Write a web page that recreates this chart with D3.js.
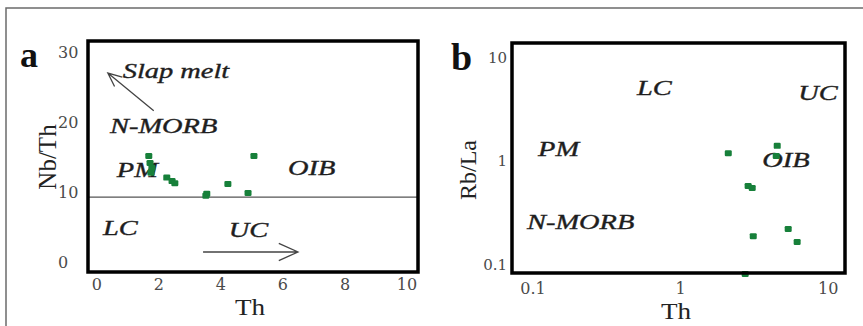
<!DOCTYPE html>
<html>
<head>
<meta charset="utf-8">
<script src="https://cdn.jsdelivr.net/npm/d3@7/dist/d3.min.js"></script>
<style>
  html, body { margin: 0; padding: 0; background: #fff; }
  svg { display: block; }
</style>
</head>
<body>
<svg id="chart" width="863" height="326"></svg>
<script>
// ---- Panel a: Nb/Th vs Th ----
const thA   = [1.69, 1.73, 1.79, 1.76, 2.27, 2.44, 2.53, 3.56, 3.53, 4.24, 4.89, 5.08];
const nbThA = [15.2, 14.2, 13.5, 12.8, 12.1, 11.6, 11.3, 9.8, 9.5, 11.2, 9.9, 15.2];
const ticksAx = [0, 2, 4, 6, 8, 10];
const ticksAy = [0, 10, 20, 30];
const refLineA = 9.3;
const labelsA = ["Slap melt", "N-MORB", "PM", "OIB", "LC", "UC"];
const labelAx = [0.85, 0.44, 0.66, 6.18, 0.21, 4.27];
const labelAy = [26.4, 18.5, 12.2, 12.5, 3.9, 3.6];
// trend arrows: [x0, y0, x1, y1] (tail -> head)
const arrowSlab = [1.85, 21.7, 0.37, 27.1];
const arrowUC   = [3.44, 1.43, 6.5, 1.43];

// ---- Panel b: Rb/La vs Th (log-log) ----
const thB   = [2.12, 4.55, 4.48, 2.89, 3.08, 3.13, 5.40, 6.21, 2.76];
const rbLaB = [1.19, 1.40, 1.12, 0.573, 0.548, 0.188, 0.220, 0.165, 0.081];
const ticksBx = [0.1, 1, 10];
const ticksBy = [0.1, 1, 10];
const labelsB = ["LC", "UC", "PM", "OIB", "N-MORB"];
const labelBx = [0.511, 6.31, 0.109, 3.6, 0.0918];
const labelBy = [4.34, 3.88, 1.12, 0.875, 0.220];

const svg = d3.select("#chart");
const green = "#17803a";
const serif = "'Liberation Serif', 'Times New Roman', serif";
const tickFont = "'DejaVu Serif', serif";

// thin outer frame (top and left edges)
svg.append("path")
  .attr("d", "M6,326 L6,8 L863,8")
  .attr("fill", "none").attr("stroke", "#6b6b6b").attr("stroke-width", 1.5);

// stretched italic annotation
function note(g, text, x, y, size, sx) {
  g.append("text")
    .attr("transform", `translate(${x},${y}) scale(${sx},1)`)
    .attr("font-family", serif).attr("font-style", "italic")
    .attr("font-size", size).attr("fill", "#1e1e1e")
    .attr("stroke", "#1e1e1e").attr("stroke-width", 0.35)
    .text(text);
}

function openArrow(g, x0, y0, x1, y1, head) {
  const ang = Math.atan2(y1 - y0, x1 - x0);
  const a1 = ang + Math.PI - 0.42, a2 = ang + Math.PI + 0.42;
  g.append("path")
    .attr("d", `M${x0},${y0}L${x1},${y1}` +
      `M${x1 + head * Math.cos(a1)},${y1 + head * Math.sin(a1)}L${x1},${y1}` +
      `L${x1 + head * Math.cos(a2)},${y1 + head * Math.sin(a2)}`)
    .attr("fill", "none").attr("stroke", "#444").attr("stroke-width", 1.3);
}

function squares(g, xs, ys, x, y) {
  g.selectAll("rect.pt").data(xs.map((v, i) => [v, ys[i]])).join("rect")
    .attr("class", "pt")
    .attr("x", d => x(d[0]) - 3.5).attr("y", d => y(d[1]) - 3)
    .attr("width", 7).attr("height", 6).attr("rx", 1.2)
    .attr("fill", green);
}

function styleTicks(sel, size) {
  sel.select(".domain").remove();
  sel.selectAll(".tick line").remove();
  sel.selectAll("text")
    .attr("font-family", tickFont).attr("font-size", size).attr("fill", "#4a4a4a");
}

// ================= Panel a =================
const boxA = { l: 88, t: 41, r: 418, b: 272 };
const xA = d3.scaleLinear().domain([-0.27, 10.37]).range([boxA.l, boxA.r]);
const yA = d3.scaleLinear().domain([-1.44, 31.7]).range([boxA.b, boxA.t]);
const gA = svg.append("g");

gA.append("line")
  .attr("x1", boxA.l).attr("x2", boxA.r)
  .attr("y1", yA(refLineA)).attr("y2", yA(refLineA))
  .attr("stroke", "#555").attr("stroke-width", 1.4);

gA.append("g").attr("transform", `translate(0,${boxA.b})`)
  .call(d3.axisBottom(xA).tickValues(ticksAx).tickSize(0).tickPadding(7).tickFormat(d3.format("d")))
  .call(s => styleTicks(s, 16));

gA.append("g").attr("transform", `translate(${boxA.l},0)`)
  .call(d3.axisLeft(yA).tickValues(ticksAy).tickSize(0).tickFormat(d3.format("d")))
  .call(s => styleTicks(s, 16))
  .call(s => s.selectAll("text").attr("text-anchor", "start").attr("x", -30));

labelsA.forEach((t, i) => note(gA, t, xA(labelAx[i]), yA(labelAy[i]), 20, 1.42));
openArrow(gA, xA(arrowSlab[0]), yA(arrowSlab[1]), xA(arrowSlab[2]), yA(arrowSlab[3]), 15);
openArrow(gA, xA(arrowUC[0]), yA(arrowUC[1]), xA(arrowUC[2]), yA(arrowUC[3]), 21);

squares(gA, thA, nbThA, xA, yA);

gA.append("rect")
  .attr("x", boxA.l).attr("y", boxA.t)
  .attr("width", boxA.r - boxA.l).attr("height", boxA.b - boxA.t)
  .attr("fill", "none").attr("stroke", "#000").attr("stroke-width", 3.5);

gA.append("text")
  .attr("transform", `translate(56,157) rotate(-90)`)
  .attr("text-anchor", "middle").attr("font-family", serif)
  .attr("font-size", 25).attr("fill", "#222").text("Nb/Th");
gA.append("text")
  .attr("transform", `translate(250,315) scale(1.18,1)`)
  .attr("text-anchor", "middle").attr("font-family", serif)
  .attr("font-size", 23).attr("fill", "#222").text("Th");
gA.append("text")
  .attr("x", 20).attr("y", 67).attr("font-family", serif).attr("font-weight", "bold")
  .attr("font-size", 36).attr("fill", "#111").text("a");

// ================= Panel b =================
const boxB = { l: 512, t: 43, r: 845, b: 273 };
const xB = d3.scaleLog().domain([0.0726, 13.1]).range([boxB.l, boxB.r]);
const yB = d3.scaleLog().domain([0.0828, 13.8]).range([boxB.b, boxB.t]);
const gB = svg.append("g");

gB.append("g").attr("transform", `translate(0,${boxB.b})`)
  .call(d3.axisBottom(xB).tickValues(ticksBx).tickSize(0).tickPadding(10).tickFormat(d => String(d)))
  .call(s => styleTicks(s, 16));

gB.append("g").attr("transform", `translate(${boxB.l},0)`)
  .call(d3.axisLeft(yB).tickValues(ticksBy).tickSize(0).tickFormat(d => String(d)))
  .call(s => styleTicks(s, 15))
  .call(s => s.selectAll("text").attr("text-anchor", "end").attr("x", -5));

labelsB.forEach((t, i) => note(gB, t, xB(labelBx[i]), yB(labelBy[i]), 20, 1.42));

squares(gB, thB, rbLaB, xB, yB);

gB.append("rect")
  .attr("x", boxB.l).attr("y", boxB.t)
  .attr("width", boxB.r - boxB.l).attr("height", boxB.b - boxB.t)
  .attr("fill", "none").attr("stroke", "#000").attr("stroke-width", 3.5);

gB.append("text")
  .attr("transform", `translate(476,170) rotate(-90)`)
  .attr("text-anchor", "middle").attr("font-family", serif)
  .attr("font-size", 24).attr("fill", "#222").text("Rb/La");
gB.append("text")
  .attr("transform", `translate(676,319) scale(1.18,1)`)
  .attr("text-anchor", "middle").attr("font-family", serif)
  .attr("font-size", 23).attr("fill", "#222").text("Th");
gB.append("text")
  .attr("x", 451).attr("y", 70).attr("font-family", serif).attr("font-weight", "bold")
  .attr("font-size", 38).attr("fill", "#111").text("b");
</script>
</body>
</html>
